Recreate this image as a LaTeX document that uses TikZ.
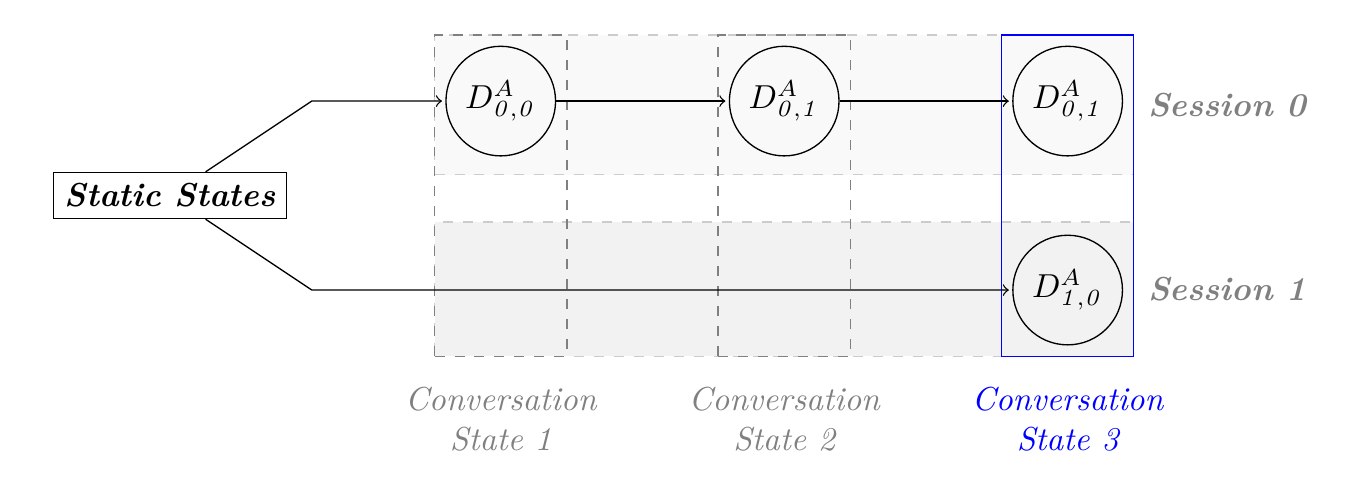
\documentclass[tikz,border=0pt]{standalone}
\usepackage{amsmath}
\usetikzlibrary{positioning}

\begin{document}
\begin{tikzpicture}[
        dstate/.style={draw, circle, minimum size=1.16cm, inner sep=0pt},
        sessionrow/.style={draw=gray!40, dashed, minimum width=7.4cm},
        statecol/.style={minimum width=1.4cm, minimum height=3.4cm},
        rowlabel/.style={text=gray, font=\bfseries\itshape},
        collabel/.style={align=center, font=\itshape}
    ]
                        \useasboundingbox (-5.30, 1.07) rectangle (9.02, -4.02);

                        % sessions
                        \node[sessionrow, fill=gray!5, minimum height=1.48cm] (row0) at (3, -0.04) {};
                        \node[sessionrow, fill=gray!10, minimum height=1.42cm] (row1) at (3, -1.99) {};
                        \node[rowlabel, right=0.02cm of row0] {Session 0};
                        \node[rowlabel, right=0.02cm of row1] {Session 1};

                        % conversation states
                        \node[statecol, draw=gray, dashed] (col1) at (0, -1) {};
                        \node[statecol, draw=gray, dashed] (col2) at (3, -1) {};
                        \node[statecol, draw=blue] (col3) at (6, -1) {};
                        \node[collabel, text=gray, below=0.2cm of col1] {Conversation\\State 1};
                        \node[collabel, text=gray, below=0.2cm of col2] {Conversation\\State 2};
                        \node[collabel, text=blue, below=0.2cm of col3] {Conversation\\State 3};

                        \node[dstate] (d00) at (0, 0) {$D^{A}_{\mathit{0,0}}$};
                        \node[dstate] (d01) at (3, 0) {$D^{A}_{\mathit{0,1}}$};
                        \node[dstate] (d02) at (6, 0) {$D^{A}_{\mathit{0,1}}$};
                        \node[dstate] (d10) at (6, -2) {$D^{A}_{\mathit{1,0}}$};
                        \node[draw, font=\bfseries\itshape] (ss) at (-3.5, -1) {Static States};

                        \draw[->, shorten >=1pt] (ss) -- (-2, 0) -- (d00);
                        \draw[->, shorten >=1pt] (ss) -- (-2, -2) -- (d10);
                        \draw[shorten >=1pt]
                        (d00) edge[->] (d01)
                        (d01) edge[->] (d02);
                    \end{tikzpicture}
\end{document}
